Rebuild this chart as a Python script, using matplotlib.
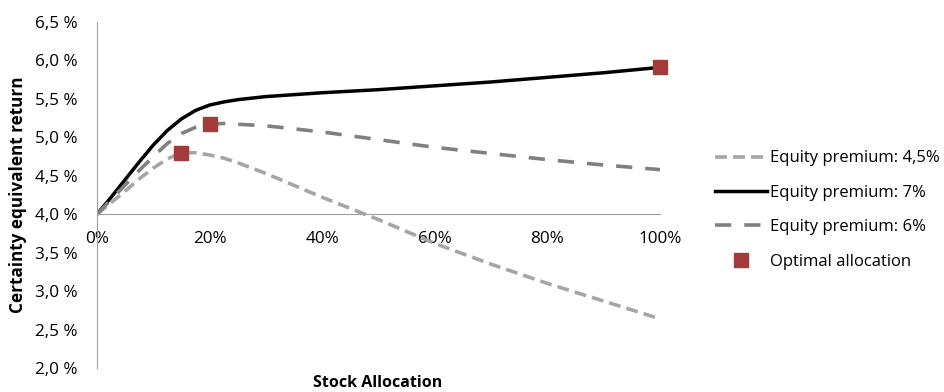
import matplotlib
matplotlib.use("Agg")
import matplotlib.pyplot as plt
from matplotlib.ticker import FuncFormatter

plt.rcParams['font.family'] = ['Open Sans', 'DejaVu Sans']

# Stock allocation (fraction of portfolio)
allocation = [0.000, 0.025, 0.050, 0.075, 0.100, 0.125, 0.150, 0.175, 0.200, 0.225, 0.250,
              0.300, 0.400, 0.500, 0.600, 0.700, 0.800, 0.900, 1.000]

# Certainty equivalent return (%) per equity premium
ce_45 = [4.00, 4.15, 4.30, 4.46, 4.60, 4.72, 4.80, 4.80, 4.77, 4.73, 4.67,
         4.53, 4.22, 3.93, 3.62, 3.35, 3.10, 2.87, 2.64]
ce_7 = [4.00, 4.22, 4.45, 4.68, 4.90, 5.09, 5.24, 5.35, 5.42, 5.46, 5.49,
        5.53, 5.58, 5.62, 5.67, 5.72, 5.78, 5.84, 5.91]
ce_6 = [4.00, 4.19, 4.38, 4.57, 4.75, 4.92, 5.05, 5.13, 5.17, 5.18, 5.17,
        5.15, 5.07, 4.97, 4.87, 4.79, 4.71, 4.64, 4.58]

# Optimal allocation points
opt_x = [0.15, 0.20, 1.00]
opt_y = [4.80, 5.17, 5.91]

series_labels = ["Equity premium: 4,5%", "Equity premium: 7%", "Equity premium: 6%", "Optimal allocation"]

FS = 12.3

fig = plt.figure(figsize=(9.45, 3.92), dpi=100)
ax = fig.add_axes([97 / 945, 24 / 392, (660 - 97) / 945, (368 - 22) / 392])

ax.plot(allocation, ce_45, color="#A6A6A6", lw=2.6, dashes=(3.3, 1.7),
        solid_capstyle="butt", label=series_labels[0])
ax.plot(allocation, ce_7, color="#000000", lw=2.5, label=series_labels[1])
ax.plot(allocation, ce_6, color="#808080", lw=2.6, dashes=(4.5, 3.6), label=series_labels[2])
ax.plot(opt_x, opt_y, ls="none", marker="s", ms=10.5, color="#A33B3B", label=series_labels[3],
        zorder=5, clip_on=False)

ax.set_xlim(0, 1)
ax.set_ylim(2.0, 6.5)
ax.set_xticks([0, 0.2, 0.4, 0.6, 0.8, 1.0])
ax.set_yticks([2.0 + 0.5 * i for i in range(10)])
ax.xaxis.set_major_formatter(FuncFormatter(lambda v, p: f"{v * 100:.0f}%"))
ax.yaxis.set_major_formatter(FuncFormatter(lambda v, p: f"{v:.1f} %".replace(".", ",")))

for side in ("top", "right"):
    ax.spines[side].set_visible(False)
ax.spines["left"].set_color("#A0A0A0")
ax.spines["bottom"].set_color("#A0A0A0")
ax.spines["bottom"].set_position(("data", 4.0))
ax.tick_params(axis="both", length=0, labelsize=FS, colors="#000000")
ax.tick_params(axis="x", pad=12)
ax.tick_params(axis="y", pad=14)

ax.set_ylabel("Certainty equivalent return", fontsize=FS, fontweight="bold", labelpad=6)
fig.text(378 / 945, 1 - 383 / 392, "Stock Allocation", ha="center", va="center",
         fontsize=11.5, fontweight="bold")

fig.legend(loc="center left", bbox_to_anchor=(700 / 945, 1 - 210 / 392), frameon=False,
           fontsize=12, handlelength=3.1, handletextpad=0.2, labelspacing=1.1)

fig.savefig("out.png", dpi=100)
